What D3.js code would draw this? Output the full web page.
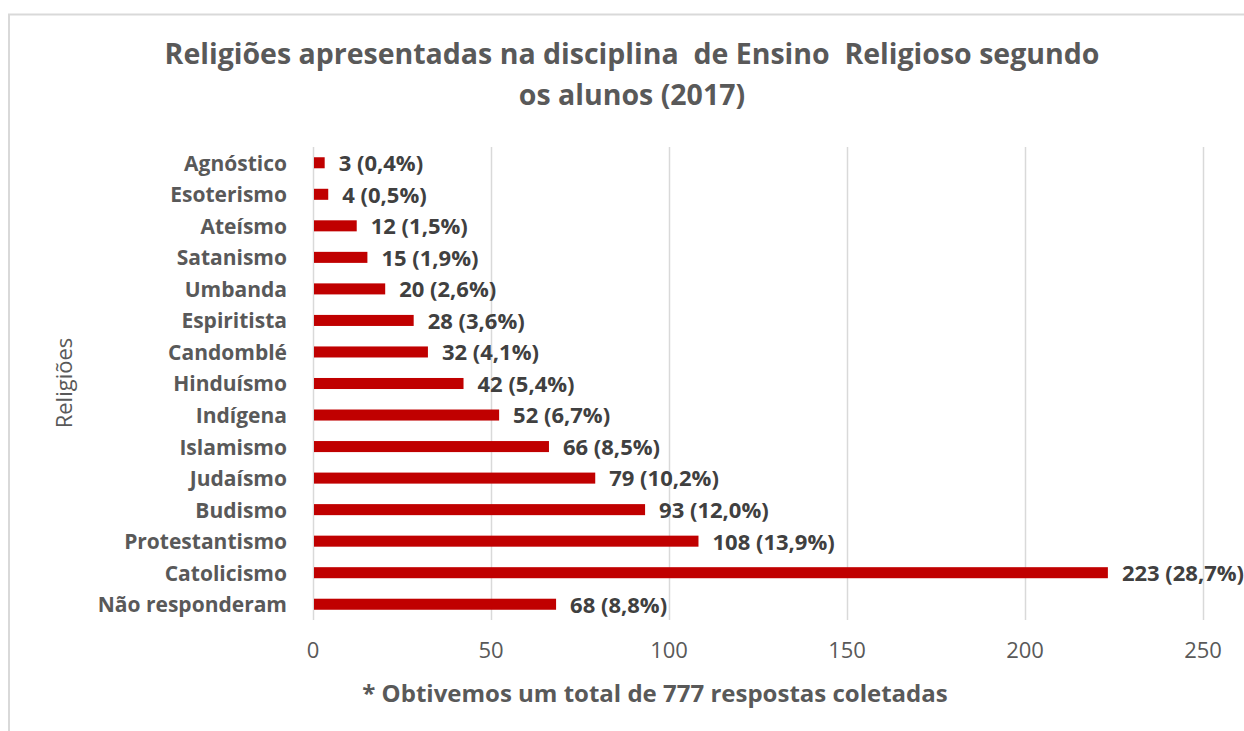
<!DOCTYPE html>
<html>
<head>
<meta charset="utf-8">
<script src="https://cdn.jsdelivr.net/npm/d3@7"></script>
<style>
  body { margin: 0; background: #fff; }
  text { font-family: "Open Sans", sans-serif; white-space: pre; }
</style>
</head>
<body>
<div id="chart-area"></div>
<script>
// data, bottom to top as in the picture
var religioes = ["Não responderam", "Catolicismo", "Protestantismo", "Budismo", "Judaísmo",
  "Islamismo", "Indígena", "Hinduísmo", "Candomblé", "Espiritista", "Umbanda",
  "Satanismo", "Ateísmo", "Esoterismo", "Agnóstico"];
var respostas = [68, 223, 108, 93, 79, 66, 52, 42, 32, 28, 20, 15, 12, 4, 3];
var percentuais = ["8,8%", "28,7%", "13,9%", "12,0%", "10,2%", "8,5%", "6,7%", "5,4%",
  "4,1%", "3,6%", "2,6%", "1,9%", "1,5%", "0,5%", "0,4%"];
var xTicks = [0, 50, 100, 150, 200, 250];

var dataset = religioes.map((r, i) => ({ religiao: r, n: respostas[i], pct: percentuais[i] }));

var W = 1244, H = 731;
var svg = d3.select("#chart-area")
  .append("svg")
  .attr("width", W)
  .attr("height", H);

// chart frame
svg.append("rect")
  .attr("x", 9).attr("y", 14.5)
  .attr("width", W + 10).attr("height", H + 10)
  .attr("fill", "none")
  .attr("stroke", "#d9d9d9")
  .attr("stroke-width", 2);

var x = d3.scaleLinear()
  .domain([0, 250])
  .range([313, 1203]);

var y = d3.scaleBand()
  .domain(religioes.slice().reverse())
  .range([147, 620])
  .paddingInner(0.65)
  .paddingOuter(0.325);

// gridlines
svg.selectAll("line.grid")
  .data(xTicks)
  .enter()
  .append("line")
  .attr("class", "grid")
  .attr("x1", (d) => x(d) + 0.5)
  .attr("x2", (d) => x(d) + 0.5)
  .attr("y1", 147)
  .attr("y2", 620)
  .attr("stroke", "#d9d9d9")
  .attr("stroke-width", 1.5);

// x tick labels
svg.selectAll("text.tick")
  .data(xTicks)
  .enter()
  .append("text")
  .attr("class", "tick")
  .attr("x", (d) => x(d))
  .attr("y", 658)
  .attr("text-anchor", "middle")
  .attr("font-size", 22)
  .attr("fill", "#595959")
  .text((d) => d);

// bars
svg.selectAll("rect.bar")
  .data(dataset)
  .enter()
  .append("rect")
  .attr("class", "bar")
  .attr("x", x(0) + 1)
  .attr("y", (d) => y(d.religiao))
  .attr("width", (d) => x(d.n) - x(0))
  .attr("height", y.bandwidth())
  .attr("fill", "#c00000");

// category labels
svg.selectAll("text.cat")
  .data(dataset)
  .enter()
  .append("text")
  .attr("class", "cat")
  .attr("x", 287)
  .attr("y", (d) => y(d.religiao) + y.bandwidth() / 2)
  .attr("dy", "0.38em")
  .attr("text-anchor", "end")
  .attr("font-size", 21)
  .attr("font-weight", "bold")
  .attr("fill", "#595959")
  .text((d) => d.religiao);

// value labels
svg.selectAll("text.val")
  .data(dataset)
  .enter()
  .append("text")
  .attr("class", "val")
  .attr("x", (d) => x(d.n) + 15)
  .attr("y", (d) => y(d.religiao) + y.bandwidth() / 2)
  .attr("dy", "0.38em")
  .attr("font-size", 22)
  .attr("font-weight", "bold")
  .attr("fill", "#404040")
  .text((d) => d.n + " (" + d.pct + ")");

// title
var title = svg.append("text")
  .attr("x", 632)
  .attr("y", 64)
  .attr("text-anchor", "middle")
  .attr("font-size", 28.5)
  .attr("font-weight", "bold")
  .attr("fill", "#595959");
title.append("tspan").attr("x", 632).text("Religiões apresentadas na disciplina  de Ensino  Religioso segundo");
title.append("tspan").attr("x", 632).attr("dy", 41).text("os alunos (2017)");

// y axis title
svg.append("text")
  .attr("transform", "translate(72,383) rotate(-90)")
  .attr("text-anchor", "middle")
  .attr("font-size", 22)
  .attr("fill", "#595959")
  .text("Religiões");

// footnote
svg.append("text")
  .attr("x", 655)
  .attr("y", 702)
  .attr("text-anchor", "middle")
  .attr("font-size", 24)
  .attr("font-weight", "bold")
  .attr("fill", "#595959")
  .text("* Obtivemos um total de 777 respostas coletadas");
</script>
</body>
</html>
